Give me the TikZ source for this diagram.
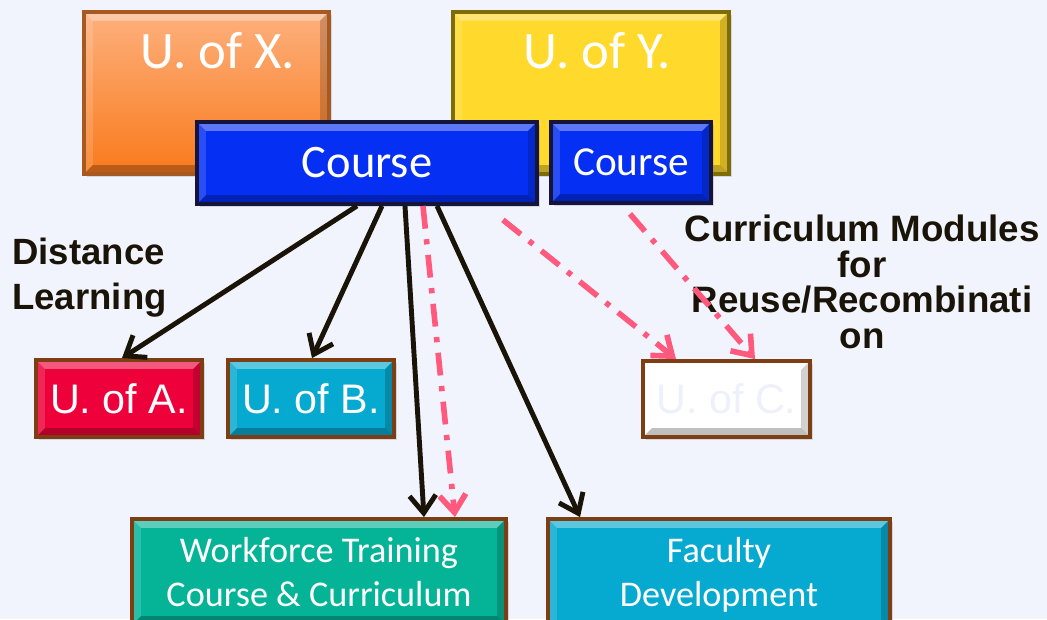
\documentclass[tikz,border=0pt]{standalone}
\usepackage{fontspec}
\setmainfont{Carlito}
\newfontfamily\arialf{Liberation Sans}
\usetikzlibrary{arrows.meta,shadows}
\definecolor{bgc}{HTML}{F1F4FD}
\definecolor{inkc}{HTML}{1A1408}
\definecolor{pinkc}{HTML}{FF5A7E}
\definecolor{brownc}{HTML}{7E3E14}
\definecolor{navyc}{HTML}{14143C}
\definecolor{orangeedge}{HTML}{A65A22}
\definecolor{orangetop}{HTML}{FDB07D}
\definecolor{orangebot}{HTML}{F97A1C}
\definecolor{yellowedge}{HTML}{7E6C08}
\definecolor{yellowc}{HTML}{FFD92B}
\definecolor{bluec}{HTML}{0530F4}
\definecolor{redc}{HTML}{EE003A}
\definecolor{cyanc}{HTML}{06A9CF}
\definecolor{tealc}{HTML}{05B497}
\definecolor{ghostc}{HTML}{EEF1FB}
\begin{document}
\begin{tikzpicture}[x=0.02cm,y=-0.02cm,
	box/.style={rectangle,inner sep=0pt,line width=2.2pt,text=white,
		path picture={
			\path (path picture bounding box.north west) coordinate (pnw)
			      (path picture bounding box.north east) coordinate (pne)
			      (path picture bounding box.south west) coordinate (psw)
			      (path picture bounding box.south east) coordinate (pse);
			\fill[white,opacity=.35] (pnw) -- (pne) -- ([shift={(-5pt,-5pt)}]pne) -- ([shift={(5pt,-5pt)}]pnw) -- cycle;
			\fill[white,opacity=.15] (pnw) -- (psw) -- ([shift={(5pt,5pt)}]psw) -- ([shift={(5pt,-5pt)}]pnw) -- cycle;
			\fill[black,opacity=.25] (psw) -- (pse) -- ([shift={(-5pt,5pt)}]pse) -- ([shift={(5pt,5pt)}]psw) -- cycle;
			\fill[black,opacity=.18] (pne) -- (pse) -- ([shift={(-5pt,5pt)}]pse) -- ([shift={(-5pt,-5pt)}]pne) -- cycle;
		}},
	shade/.style={drop shadow={opacity=.25,shadow xshift=1.5pt,shadow yshift=-1.5pt}},
	lbl/.style={inner sep=0pt,text=inkc,font=\arialf\bfseries},
	blk/.style={draw=inkc,line width=2.8pt,-{Straight Barb[length=10pt,width=15pt]}},
	pnk/.style={draw=pinkc,line width=3.2pt,dash pattern=on 13pt off 6pt on 3pt off 6pt,-{Straight Barb[length=10pt,width=15pt]}}]
	\useasboundingbox (0,0) rectangle (1047,619);
	\clip (0,0) rectangle (1047,619);
	\fill[bgc] (0,0) rectangle (1047,619);
	\node[box,shade,draw=orangeedge,top color=orangetop,bottom color=orangebot,minimum width=4.9cm,text height=1.14cm,text depth=2.1cm,anchor=north,font=\fontsize{30}{36}\selectfont] (ux) at (206.5,10) {\hspace*{0.45cm}U. of X.};
	\node[box,shade,draw=yellowedge,fill=yellowc,minimum width=5.52cm,text height=1.14cm,text depth=2.1cm,anchor=north,font=\fontsize{30}{36}\selectfont] (uy) at (591,10) {\hspace*{0.25cm}U. of Y.};
	\node[box,shade,draw=navyc,fill=bluec,minimum width=6.8cm,minimum height=1.64cm,font=\fontsize{26.5}{32}\selectfont] (cm) at (367,163) {Course};
	\node[box,shade,draw=navyc,fill=bluec,minimum width=3.2cm,minimum height=1.62cm,font=\fontsize{23.5}{28}\selectfont] (cs) at (631,162.5) {Course};
	\node[box,shade,draw=brownc,fill=redc,minimum width=3.32cm,minimum height=1.54cm,font=\arialf\fontsize{23.5}{28}\selectfont] (ua) at (119,398.5) {U. of A.};
	\node[box,shade,draw=brownc,fill=cyanc,minimum width=3.32cm,minimum height=1.54cm,font=\arialf\fontsize{23.5}{28}\selectfont] (ub) at (311,398.5) {U. of B.};
	\node[box,shade,draw=brownc,fill=white,text=ghostc,minimum width=3.34cm,minimum height=1.52cm,font=\arialf\fontsize{23.5}{28}\selectfont] (uc) at (726.5,399) {U. of C.};
	\node[box,shade,draw=brownc,fill=tealc,minimum width=7.48cm,minimum height=2.12cm,align=center,font=\fontsize{20.6}{25}\selectfont] (wf) at (319,572) {Workforce Training\\Course \& Curriculum};
	\node[box,shade,draw=brownc,fill=cyanc,minimum width=6.84cm,minimum height=2.24cm,align=center,font=\fontsize{20.6}{25}\selectfont] (fd) at (719,575) {Faculty\\Development};
	\node[lbl,align=left,anchor=west,font=\arialf\bfseries\fontsize{20.8}{25.5}\selectfont] (dl) at (12,278) {Distance\\Learning};
	\node[lbl,align=center,font=\arialf\bfseries\fontsize{20.9}{20.2}\selectfont] (cmod) at (862,282) {Curriculum Modules\\for\\Reuse/Recombinati\\on};
	\draw[blk] ([xshift=-0.2cm]cm.south) -- ([xshift=0.06cm]ua.north);
	\draw[blk] ([xshift=0.3cm]cm.south) -- ([xshift=0.02cm]ub.north);
	\draw[blk] ([xshift=0.76cm]cm.south) -- ([xshift=2.1cm]wf.north);
	\draw[blk] ([xshift=1.4cm]cm.south) -- ([xshift=-2.78cm]fd.north);
	\draw[pnk] ([xshift=1.12cm]cm.south) -- ([xshift=2.72cm]wf.north);
	\draw[pnk] ([xshift=2.72cm,yshift=-0.28cm]cm.south) -- ([xshift=-1.01cm]uc.north);
	\draw[pnk] ([xshift=-0.02cm,yshift=-0.18cm]cs.south) -- ([xshift=0.57cm]uc.north);
\end{tikzpicture}
\end{document}
